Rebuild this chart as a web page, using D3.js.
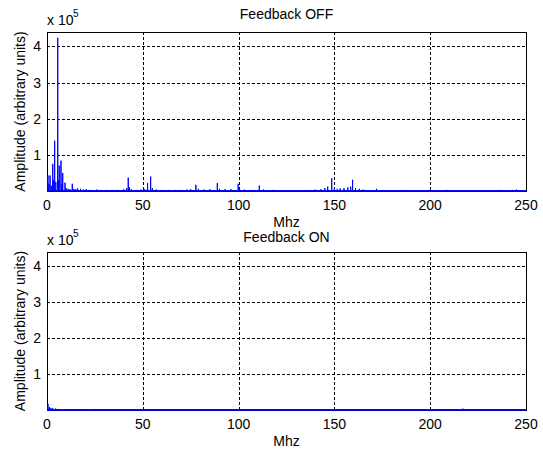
<!DOCTYPE html>
<html>
<head>
<meta charset="utf-8">
<script src="https://cdn.jsdelivr.net/npm/d3@7"></script>
<style>
  body { margin: 0; background: #fff; }
  text { font-family: Arial, "Liberation Sans", Helvetica, sans-serif; fill: #000; }
</style>
</head>
<body>
<div id="chart"></div>
<script>
// amplitude values are in units of 1e5
var xTicks = [0, 50, 100, 150, 200, 250];
var yTicks = [1, 2, 3, 4];

var offFreq = [0.5, 1.0, 1.6, 2.2, 3.0, 3.5, 4.0, 4.6, 5.6, 6.0, 6.4, 7.3, 7.8, 8.2, 9.4, 10, 11, 12, 13.2, 14,
  15, 16, 17.5, 19, 20.5, 22, 26, 28, 31, 34, 37, 40, 41.6, 42.4, 43, 44, 47, 49, 51, 52.5,
  54.1, 55, 57, 60, 64, 67, 70, 73, 75, 77.7, 79, 82, 85, 88.9, 90, 93, 96, 99.8, 100.5, 103,
  107, 110.8, 113, 118, 125, 133, 137, 140, 143, 145, 146.5, 148.6, 150, 151.5, 153, 155, 157, 158.5, 159.5, 161,
  163, 165, 172, 180, 187, 200, 209, 220, 236, 243, 245, 247];
var offAmp = [0.43, 0.2, 0.43, 0.15, 0.75, 0.3, 1.39, 0.25, 4.24, 0.3, 0.7, 0.84, 0.2, 0.5, 0.23, 0.08, 0.06, 0.05, 0.2, 0.06,
  0.05, 0.07, 0.06, 0.04, 0.05, 0.03, 0.04, 0.03, 0.03, 0.03, 0.03, 0.05, 0.08, 0.37, 0.1, 0.05, 0.03, 0.04, 0.05, 0.22,
  0.4, 0.08, 0.04, 0.03, 0.03, 0.03, 0.03, 0.04, 0.05, 0.17, 0.06, 0.04, 0.05, 0.22, 0.06, 0.05, 0.05, 0.2, 0.08, 0.04,
  0.03, 0.15, 0.04, 0.03, 0.02, 0.02, 0.03, 0.04, 0.05, 0.08, 0.12, 0.35, 0.1, 0.06, 0.07, 0.08, 0.1, 0.12, 0.31, 0.08,
  0.06, 0.04, 0.06, 0.02, 0.03, 0.03, 0.03, 0.02, 0.03, 0.03, 0.04, 0.02];

var onFreq = [0.5, 1.2, 2, 3, 4.5, 6, 8, 24.5, 50, 150, 217];
var onAmp = [0.17, 0.08, 0.06, 0.05, 0.04, 0.03, 0.02, 0.03, 0.02, 0.02, 0.04];

var gWidth = 543;
var gHeight = 449;

var svg = d3.select("div#chart")
  .append("svg")
  .attr("width", gWidth)
  .attr("height", gHeight);

function drawPanel(opts) {
  var left = 47, right = 526;
  var x = d3.scaleLinear().domain([0, 250]).range([left, right]);
  var y = d3.scaleLinear().domain([0, 4.4]).range([opts.bottom, opts.top]);

  var g = svg.append("g");

  // dashed grid
  g.selectAll(".hgrid")
    .data(yTicks)
    .enter().append("line")
    .attr("x1", left).attr("x2", right)
    .attr("y1", function(d) { return Math.round(y(d)) + 0.5; })
    .attr("y2", function(d) { return Math.round(y(d)) + 0.5; })
    .style("stroke", "#000")
    .style("stroke-dasharray", "3,2");

  g.selectAll(".vgrid")
    .data(xTicks.slice(1, -1))
    .enter().append("line")
    .attr("x1", function(d) { return Math.round(x(d)) + 0.5; })
    .attr("x2", function(d) { return Math.round(x(d)) + 0.5; })
    .attr("y1", opts.top).attr("y2", opts.bottom)
    .style("stroke", "#000")
    .style("stroke-dasharray", "3,2");

  // box
  g.append("rect")
    .attr("x", left + 0.5)
    .attr("y", opts.top + 0.5)
    .attr("width", right - left)
    .attr("height", opts.bottom - opts.top)
    .style("fill", "none")
    .style("stroke", "#000");

  // spectrum, spikes from the baseline
  var pts = [[0, 0.01]];
  opts.freq.forEach(function(f, i) {
    pts.push([f, 0.01], [f, opts.amp[i]], [f, 0.01]);
  });
  pts.push([250, 0.01]);

  var line = d3.line()
    .x(function(d) { return x(d[0]); })
    .y(function(d) { return y(d[1]); });

  g.append("path")
    .datum(pts)
    .attr("d", line)
    .style("fill", "none")
    .style("stroke", "#0000ff")
    .style("stroke-width", 1);

  g.append("line")
    .attr("x1", x(0)).attr("x2", x(250))
    .attr("y1", opts.bottom).attr("y2", opts.bottom)
    .style("stroke", "#0000ff")
    .style("stroke-width", 1.5);

  // tick labels
  g.selectAll(".xlab")
    .data(xTicks)
    .enter().append("text")
    .attr("x", function(d) { return x(d); })
    .attr("y", opts.bottom + 19)
    .attr("text-anchor", "middle")
    .style("font-size", "14px")
    .text(function(d) { return d; });

  g.selectAll(".ylab")
    .data(yTicks)
    .enter().append("text")
    .attr("x", left - 6)
    .attr("y", function(d) { return y(d) + 5; })
    .attr("text-anchor", "end")
    .style("font-size", "14px")
    .text(function(d) { return d; });

  // exponent
  g.append("text")
    .attr("x", left)
    .attr("y", opts.top - 7)
    .style("font-size", "14px")
    .text("x 10");
  g.append("text")
    .attr("x", left + 26)
    .attr("y", opts.top - 15)
    .style("font-size", "10px")
    .text("5");

  g.append("text")
    .attr("x", (left + right) / 2)
    .attr("y", opts.titleY)
    .attr("text-anchor", "middle")
    .style("font-size", "14px")
    .text(opts.title);

  g.append("text")
    .attr("x", (left + right) / 2)
    .attr("y", opts.bottom + 36)
    .attr("text-anchor", "middle")
    .style("font-size", "14px")
    .text("Mhz");

  g.append("text")
    .attr("transform", "translate(25," + ((opts.top + opts.bottom) / 2) + ") rotate(-90)")
    .attr("text-anchor", "middle")
    .style("font-size", "14px")
    .text("Amplitude (arbitrary units)");
}

drawPanel({ title: "Feedback OFF", top: 32, bottom: 191, titleY: 19, freq: offFreq, amp: offAmp });
drawPanel({ title: "Feedback ON", top: 252, bottom: 410, titleY: 242, freq: onFreq, amp: onAmp });
</script>
</body>
</html>
